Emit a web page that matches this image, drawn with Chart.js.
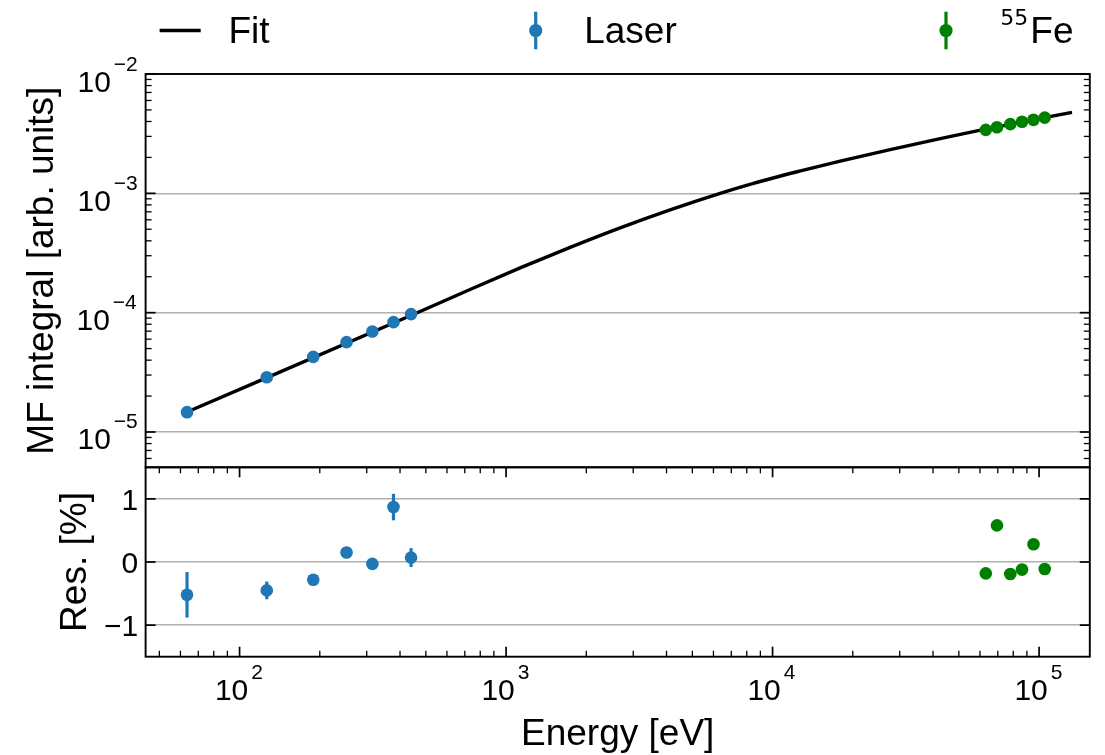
<!DOCTYPE html>
<html>
<head>
<meta charset="utf-8">
<title>MF integral vs energy</title>
<script src="https://cdn.jsdelivr.net/npm/chart.js@4.4.1/dist/chart.umd.min.js"></script>
<style>
  html, body { margin: 0; padding: 0; background: #fff; }
  #plot { display: block; }
</style>
</head>
<body>
<canvas id="plot" width="1105" height="755"></canvas>
<script>
"use strict";

// laser calibration points
const laserEnergy = [63.5, 126.5, 189, 252, 315, 378, 440];
const laserIntegral = [1.466e-5, 2.88e-5, 4.26e-5, 5.66e-5, 6.95e-5, 8.33e-5, 9.73e-5];
const laserResidual = [-0.52, -0.45, -0.28, 0.15, -0.03, 0.87, 0.07];
const laserResidualErr = [0.36, 0.14, 0.05, 0.04, 0.04, 0.21, 0.15];

// 55Fe points
const feEnergy = [63100, 69500, 78000, 86300, 95300, 105000];
const feIntegral = [3.40e-3, 3.58e-3, 3.80e-3, 3.98e-3, 4.13e-3, 4.31e-3];
const feResidual = [-0.18, 0.58, -0.19, -0.12, 0.28, -0.11];
const feResidualErr = [0.04, 0.04, 0.04, 0.04, 0.04, 0.04];

// fit curve
const fitEnergy = [63.5, 475.5, 732.7, 1129, 1739, 2679, 4127, 6357, 8479,
  12730, 17940, 27630, 42570, 58470, 132900];
const fitIntegral = [1.47e-5, 1.023e-4, 1.565e-4, 2.371e-4, 3.523e-4, 5.135e-4,
  7.272e-4, 1.0e-3, 1.213e-3, 1.541e-3, 1.862e-3, 2.325e-3, 2.875e-3, 3.337e-3, 4.774e-3];

// tick values
const energyTicks = [1e2, 1e3, 1e4, 1e5];
const integralTicks = [1e-5, 1e-4, 1e-3, 1e-2];
const residualTicks = [-1, 0, 1];

const FONT = '"Liberation Sans", Arial, sans-serif';
const BLUE = "#1f77b4";
const GREEN = "#008000";

const pts = (xs, ys) => xs.map((x, i) => ({ x: x, y: ys[i] }));

function fixedTicks(values) {
  return (scale) => {
    scale.ticks = values.map((v) => ({ value: v }));
  };
}

function minorLog(lo, hi) {
  const out = [];
  for (let k = Math.floor(Math.log10(lo)); k <= Math.ceil(Math.log10(hi)); k++) {
    for (let m = 2; m <= 9; m++) {
      const v = m * Math.pow(10, k);
      if (v > lo && v < hi) out.push(v);
    }
  }
  return out;
}

function line(ctx, x1, y1, x2, y2) {
  ctx.beginPath();
  ctx.moveTo(x1, y1);
  ctx.lineTo(x2, y2);
  ctx.stroke();
}

// text placed by its ink box instead of its advance box
function inkText(ctx, text, font, x, y, align) {
  ctx.font = font;
  const m = ctx.measureText(text);
  const left = -m.actualBoundingBoxLeft;
  const right = m.actualBoundingBoxRight;
  let ox = x - left;
  if (align === "right") ox = x - right;
  if (align === "center") ox = x - (left + right) / 2;
  ctx.fillText(text, ox, y);
}

// "10" with a raised exponent
function powerLabel(ctx, exp, x, baseY, align) {
  const base = "10";
  const sup = (exp < 0 ? "\u2212" : "") + Math.abs(exp);
  const baseFont = "30px " + FONT;
  const supFont = "21px " + FONT;
  ctx.font = baseFont;
  const mb = ctx.measureText(base);
  ctx.font = supFont;
  const ms = ctx.measureText(sup);
  const supX = mb.width + 3;
  const inkLeft = -mb.actualBoundingBoxLeft;
  const inkRight = supX + ms.actualBoundingBoxRight;
  const ox = align === "center" ? x - (inkLeft + inkRight) / 2 : x - inkRight;
  ctx.font = baseFont;
  ctx.fillText(base, ox, baseY);
  ctx.font = supFont;
  ctx.fillText(sup, ox + supX, baseY - 21);
}

function errorBars(chart, xs, ys, errs, color) {
  const ctx = chart.ctx;
  const sx = chart.scales.x;
  const sy = chart.scales.res;
  ctx.save();
  ctx.strokeStyle = color;
  ctx.lineWidth = 3.2;
  xs.forEach((e, i) => {
    const px = sx.getPixelForValue(e);
    line(ctx, px, sy.getPixelForValue(ys[i] - errs[i]), px, sy.getPixelForValue(ys[i] + errs[i]));
  });
  ctx.restore();
}

const panelDecor = {
  id: "panelDecor",
  beforeDatasetsDraw(chart) {
    errorBars(chart, laserEnergy, laserResidual, laserResidualErr, BLUE);
    errorBars(chart, feEnergy, feResidual, feResidualErr, GREEN);
  },
  afterDraw(chart) {
    const ctx = chart.ctx;
    const sx = chart.scales.x;
    const top = chart.scales.y;
    const res = chart.scales.res;
    const L = chart.chartArea.left;
    const R = chart.chartArea.right;
    const MAJ = 10;
    const MIN = 6;

    ctx.save();
    ctx.strokeStyle = "#000";
    ctx.fillStyle = "#000";

    // inward ticks, upper panel: y only
    ctx.lineWidth = 1.7;
    integralTicks.forEach((v) => {
      const p = top.getPixelForValue(v);
      line(ctx, L, p, L + MAJ, p);
      line(ctx, R, p, R - MAJ, p);
    });
    ctx.lineWidth = 1.3;
    minorLog(top.min, top.max).forEach((v) => {
      const p = top.getPixelForValue(v);
      line(ctx, L, p, L + MIN, p);
      line(ctx, R, p, R - MIN, p);
    });

    // inward ticks, residual panel
    ctx.lineWidth = 1.7;
    residualTicks.forEach((v) => {
      const p = res.getPixelForValue(v);
      line(ctx, L, p, L + MAJ, p);
      line(ctx, R, p, R - MAJ, p);
    });
    energyTicks.forEach((v) => {
      const p = sx.getPixelForValue(v);
      line(ctx, p, res.top, p, res.top + MAJ);
      line(ctx, p, res.bottom, p, res.bottom - MAJ);
    });
    ctx.lineWidth = 1.3;
    minorLog(sx.min, sx.max).forEach((v) => {
      const p = sx.getPixelForValue(v);
      line(ctx, p, res.top, p, res.top + MIN);
      line(ctx, p, res.bottom, p, res.bottom - MIN);
    });

    // panel frames
    ctx.lineWidth = 1.9;
    ctx.strokeRect(L, top.top, R - L, top.bottom - top.top);
    ctx.strokeRect(L, res.top, R - L, res.bottom - res.top);

    // tick labels
    ctx.textAlign = "left";
    ctx.textBaseline = "alphabetic";
    energyTicks.forEach((v) => {
      powerLabel(ctx, Math.round(Math.log10(v)), sx.getPixelForValue(v), res.bottom + 43.5, "center");
    });
    integralTicks.forEach((v) => {
      powerLabel(ctx, Math.round(Math.log10(v)), L - 8.5, top.getPixelForValue(v) + 17.5, "right");
    });
    residualTicks.forEach((v) => {
      const txt = v < 0 ? "\u2212" + Math.abs(v) : String(v);
      inkText(ctx, txt, "30px " + FONT, L - 8.2, res.getPixelForValue(v) + 10.8, "right");
    });

    // axis titles
    const titleFont = "37px " + FONT;
    ctx.font = titleFont;
    ctx.textAlign = "center";
    ctx.fillText("Energy [eV]", (L + R) / 2, res.bottom + 88.5);
    ctx.save();
    ctx.translate(53, (top.top + top.bottom) / 2);
    ctx.rotate(-Math.PI / 2);
    ctx.fillText("MF integral [arb. units]", 0, 0);
    ctx.restore();
    ctx.save();
    ctx.translate(86, (res.top + res.bottom) / 2);
    ctx.rotate(-Math.PI / 2);
    ctx.fillText("Res. [%]", 0, 0);
    ctx.restore();
    ctx.textAlign = "left";

    // legend row
    const ly = 30.5;
    const lb = 43.3;
    ctx.lineWidth = 3.4;
    line(ctx, 159.6, ly, 200.7, ly);
    inkText(ctx, "Fit", titleFont, 231.5, lb, "left");

    [[535.7, BLUE], [946, GREEN]].forEach(([mx, col]) => {
      ctx.strokeStyle = col;
      ctx.fillStyle = col;
      ctx.lineWidth = 3.2;
      line(ctx, mx, 11.7, mx, 49.3);
      ctx.beginPath();
      ctx.arc(mx, ly, 6.6, 0, Math.PI * 2);
      ctx.fill();
    });
    ctx.fillStyle = "#000";
    inkText(ctx, "Laser", titleFont, 587.2, lb, "left");
    inkText(ctx, "55", '22px "DejaVu Sans", sans-serif', 1027.3, 25.2, "right");
    inkText(ctx, "Fe", titleFont, 1033.3, lb, "left");

    ctx.restore();
  },
};

const pointStyle = (color) => ({
  backgroundColor: color,
  borderColor: color,
  borderWidth: 0,
  pointRadius: 6.3,
  pointHoverRadius: 6.3,
  showLine: false,
  order: 1,
});

new Chart(document.getElementById("plot"), {
  type: "scatter",
  data: {
    datasets: [
      Object.assign({ label: "Laser", data: pts(laserEnergy, laserIntegral), yAxisID: "y" }, pointStyle(BLUE)),
      Object.assign({ label: "55Fe", data: pts(feEnergy, feIntegral), yAxisID: "y" }, pointStyle(GREEN)),
      Object.assign({ label: "Laser residual", data: pts(laserEnergy, laserResidual), yAxisID: "res" }, pointStyle(BLUE)),
      Object.assign({ label: "55Fe residual", data: pts(feEnergy, feResidual), yAxisID: "res" }, pointStyle(GREEN)),
      {
        type: "line",
        label: "Fit",
        data: pts(fitEnergy, fitIntegral),
        yAxisID: "y",
        borderColor: "#000",
        borderWidth: 3.4,
        pointRadius: 0,
        fill: false,
        cubicInterpolationMode: "monotone",
        order: 2,
      },
    ],
  },
  options: {
    responsive: false,
    animation: false,
    devicePixelRatio: 1,
    events: [],
    layout: { padding: { top: 74, right: 15.2, bottom: 0, left: 0 } },
    plugins: { legend: { display: false }, tooltip: { enabled: false } },
    scales: {
      x: {
        type: "logarithmic",
        position: "bottom",
        min: 44.4,
        max: 155000,
        ticks: { display: false },
        grid: { display: false },
        border: { display: false },
        afterFit: (s) => { s.height = 98.3; },
      },
      // the left stack is laid out last-first, so the residual panel is listed before the main one
      res: {
        type: "linear",
        position: "left",
        stack: "panels",
        stackWeight: 189.4,
        min: -1.5,
        max: 1.5,
        ticks: { display: false },
        grid: { color: "#b0b0b0", lineWidth: 1.5, drawTicks: false },
        border: { display: false },
        afterBuildTicks: fixedTicks(residualTicks),
        afterFit: (s) => { s.width = 145.6; },
      },
      y: {
        type: "logarithmic",
        position: "left",
        stack: "panels",
        stackWeight: 393.3,
        min: 5.06e-6,
        max: 1e-2,
        ticks: { display: false },
        grid: { color: "#b0b0b0", lineWidth: 1.5, drawTicks: false },
        border: { display: false },
        afterBuildTicks: fixedTicks(integralTicks),
        afterFit: (s) => { s.width = 145.6; },
      },
    },
  },
  plugins: [panelDecor],
});
</script>
</body>
</html>
